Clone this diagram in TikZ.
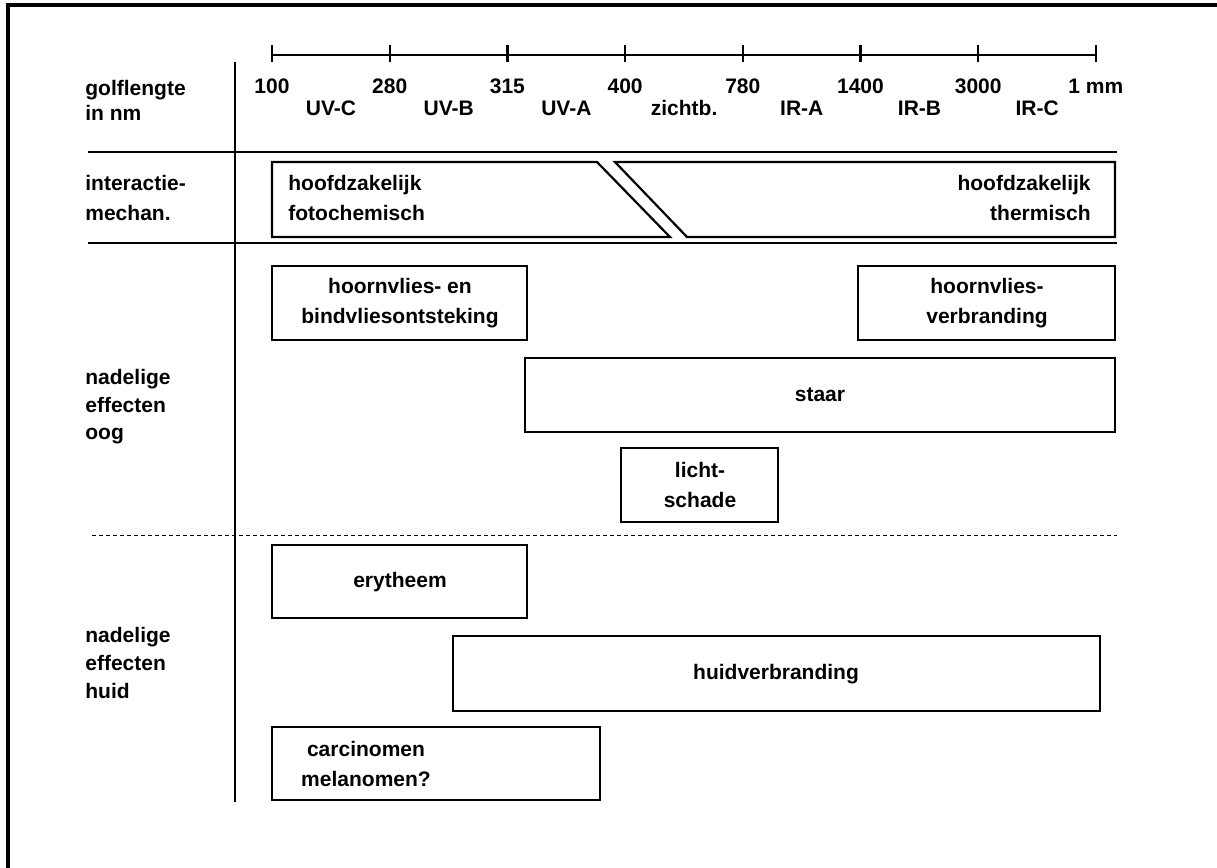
\documentclass[tikz,border=0pt]{standalone}
\usepackage{fontspec}
\setmainfont{Liberation Sans}
\begin{document}
\begin{tikzpicture}[x=0.5pt, y=-0.5pt, font=\fontsize{10.5}{15}\selectfont\bfseries,
    line join=miter, line cap=butt,
    rule/.style={line width=1.1pt},
    bar/.style={draw, line width=1.1pt},
    txt/.style={align=center, inner sep=0pt},
    lbl/.style={align=left, anchor=west, inner sep=0pt, font=\fontsize{10.5}{13.8}\selectfont\bfseries}]
  \useasboundingbox (0,0) rectangle (1217,868);
  % frame
  \draw[line width=1.6pt] (8,868) -- (8,5) -- (1217,5);
  % table rules
  \draw[rule] (235,62) -- (235,802);
  \draw[rule] (88,152) -- (1117,152);
  \draw[rule] (88,243) -- (1117,243);
  \draw[line width=0.5pt, dash pattern=on 2pt off 1.5pt] (92,535) -- (1117,535);
  % wavelength axis
  \draw[rule] (272,55) -- (1096,55);
  \foreach \t [count=\i from 0] in {100,280,315,400,780,1400,3000,1 mm}
    \draw[rule] (272+117.7*\i,45) -- (272+117.7*\i,62) node[txt, below=8pt] {\t};
  \foreach \b [count=\i from 0] in {UV-C,UV-B,UV-A,zichtb.,IR-A,IR-B,IR-C}
    \node[txt] at (331+117.7*\i,108) {\b};
  % row labels
  \node[lbl] (golf) at (85,100) {golflengte\\[-1.3pt]in nm};
  \node[lbl] (mech) at (85,198) {interactie-\\[1.2pt]mechan.};
  \node[lbl] (oog) at (85,407) {nadelige\\effecten\\oog};
  \node[lbl] (huid) at (85,663) {nadelige\\effecten\\huid};
  % interaction mechanisms
  \draw[bar] (272,162) -- (597,162) -- (670,237) -- (272,237) -- cycle;
  \draw[bar] (615,162) -- (1115,162) -- (1115,237) -- (687,237) -- cycle;
  \node[lbl] (foto) at (288,198) {hoofdzakelijk\\[1.2pt]fotochemisch};
  \node[align=right, anchor=east, inner sep=0pt] (therm) at (1091,198) {hoofdzakelijk\\thermisch};
  % effects on the eye
  \draw[bar] (272,266) rectangle (527,340);
  \node[txt] (kerat) at (400,303) {hoornvlies- en\\bindvliesontsteking};
  \draw[bar] (858,266) rectangle (1115,340);
  \node[txt] (verbr) at (987,303) {hoornvlies-\\verbranding};
  \draw[bar] (525,358) rectangle (1115,432);
  \node[txt] (staar) at (820,395) {staar};
  \draw[bar] (621,448) rectangle (778,522);
  \node[txt] (licht) at (700,485) {licht-\\schade};
  % effects on the skin
  \draw[bar] (272,545) rectangle (527,618);
  \node[txt] (eryt) at (400,582) {erytheem};
  \draw[bar] (453,636) rectangle (1100,711);
  \node[txt] (huidv) at (776,674) {huidverbranding};
  \draw[bar] (272,727) rectangle (600,800);
  \node[txt] (carc) at (366,764) {carcinomen\\melanomen?};
\end{tikzpicture}
\end{document}
